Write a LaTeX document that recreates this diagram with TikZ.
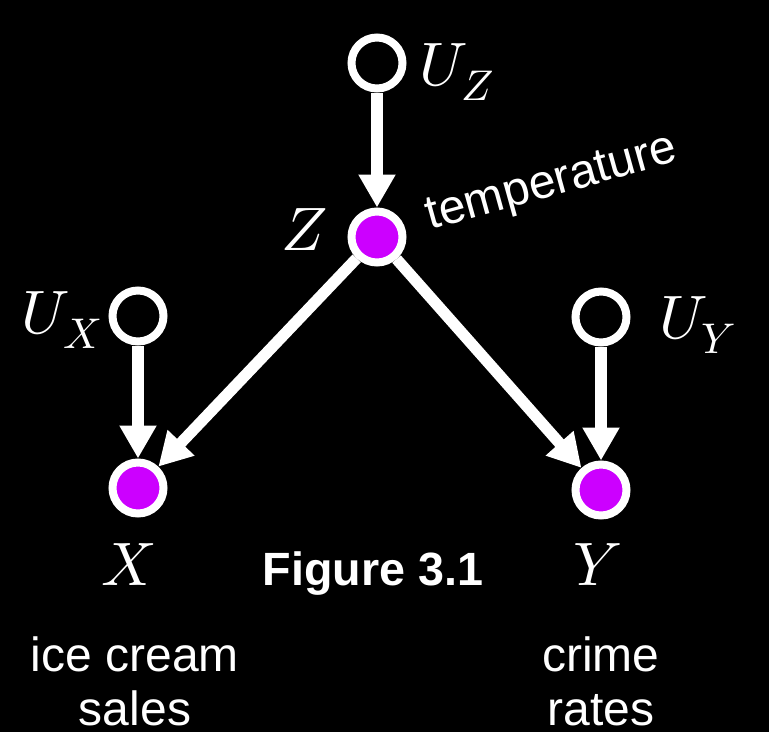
\documentclass[tikz,border=0pt]{standalone}
\usepackage{fontspec}
\usepackage{unicode-math}
\setmainfont{Liberation Sans}
\setmathfont{Latin Modern Math}
\usetikzlibrary{arrows.meta}
\definecolor{mag}{HTML}{CC00FF}
\begin{document}
\begin{tikzpicture}[x=0.75pt,y=-0.75pt,
  ring/.style={circle, draw=white, line width=6pt, minimum size=38.25pt, inner sep=0pt},
  obs/.style={ring, fill=mag},
  lat/.style={ring, fill=black},
  arr/.style={draw=white, line width=8.5pt, -{Triangle[length=24.75pt,width=26.25pt]}},
  lbl/.style={text=white, inner sep=0pt},
  mathlbl/.style={lbl, font=\fontsize{46}{50}\selectfont},
  sanslbl/.style={lbl, font=\fontsize{36}{40}\selectfont}]
\fill[black] (0,0) rectangle (769,732);
\useasboundingbox (0,0) rectangle (769,732);
\node[lat] (uz) at (377,63) {};
\node[obs] (z) at (377,237) {};
\node[lat] (ux) at (138,316) {};
\node[obs] (x) at (138,488) {};
\node[lat] (uy) at (601,317) {};
\node[obs] (y) at (601,490) {};
\draw[arr] (uz) -- (z);
\draw[arr] (ux) -- (x);
\draw[arr] (uy) -- (y);
\draw[arr] (z) -- (x);
\draw[arr] (z) -- (y);
\node[mathlbl, anchor=base west] (luz) at (419,85) {$U_Z$};
\node[mathlbl, anchor=base west] (lux) at (21,333) {$U_X$};
\node[mathlbl, anchor=base west] (luy) at (659,338) {$U_Y$};
\node[mathlbl, anchor=base west] (lz) at (281,250) {$Z$};
\node[mathlbl, anchor=base] (lx) at (128,585) {$X$};
\node[mathlbl, anchor=base] (ly) at (598,585) {$Y$};
\node[sanslbl, anchor=base west, rotate=15.5] (temp) at (430,230) {temperature};
\node[lbl, anchor=base, font=\fontsize{35}{40}\selectfont\bfseries] (fig) at (373,585) {Figure 3.1};
\node[sanslbl, anchor=base] (ice) at (135,671) {ice cream};
\node[sanslbl, anchor=base] (sales) at (135,725) {sales};
\node[sanslbl, anchor=base] (crime) at (601,671) {crime};
\node[sanslbl, anchor=base] (rates) at (601,725) {rates};
\end{tikzpicture}
\end{document}
